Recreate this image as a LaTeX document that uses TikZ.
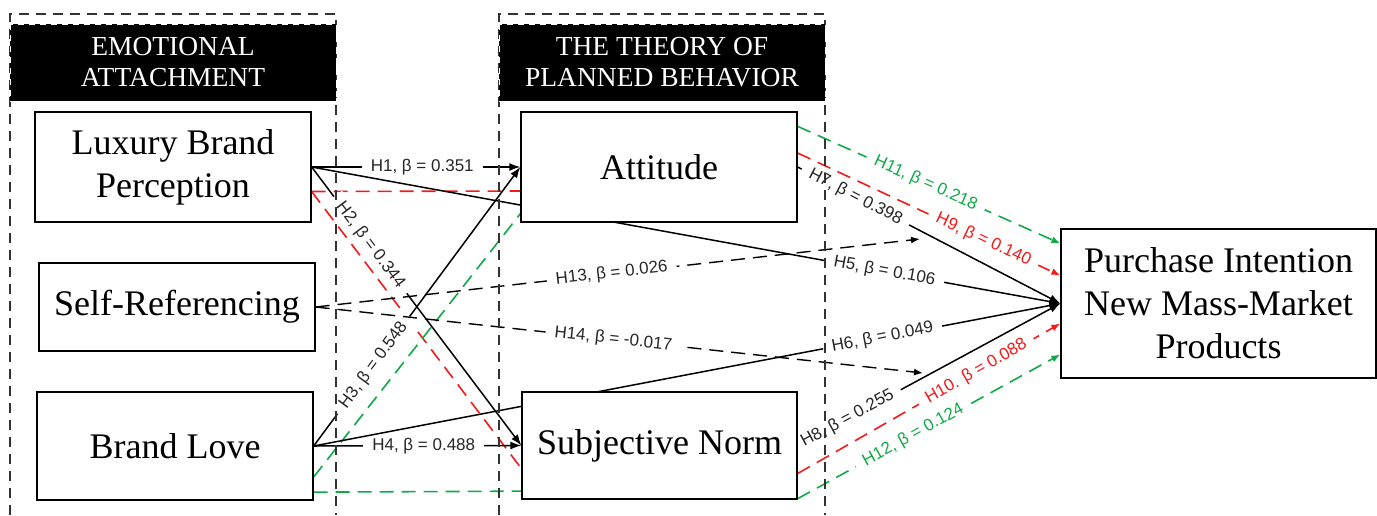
\documentclass[tikz,border=0pt]{standalone}
\usepackage{fontspec}
\setmainfont{Liberation Serif}
\newfontfamily\labfont{Liberation Sans}
\usetikzlibrary{arrows.meta,calc,backgrounds}
\definecolor{rd}{RGB}{245,25,25}
\definecolor{gn}{RGB}{15,170,70}
\begin{document}
\begin{tikzpicture}[x=1pt,y=-1pt,
  box/.style={draw,line width=1.3pt,fill=white,align=center,inner sep=0pt,font=\fontsize{36}{43}\selectfont},
  hdrtext/.style={text=white,align=center,font=\fontsize{27.5}{31}\selectfont},
  col/.style={line width=1.3pt,black!80,dash pattern=on 10pt off 7pt},
  conn/.style={line width=1.5pt,black},
  tipk/.style={-{Latex[length=11pt,width=8pt]}},
  tips/.style={-{Latex[length=9pt,width=7pt]}},
  dl/.style={line width=1.4pt,black,dash pattern=on 14pt off 8pt},
  rdl/.style={line width=1.6pt,rd,dash pattern=on 14pt off 8pt},
  gnl/.style={line width=1.6pt,gn,dash pattern=on 14pt off 8pt},
  lab/.style={font=\labfont\fontsize{17}{17}\selectfont,fill=white,inner xsep=9pt,inner ysep=2pt,text=black!85},
]
\useasboundingbox (0,0) rectangle (1377,515);
% columns
\draw[col] (10,515) -- (10,14) -- (336,14) -- (336,515);
\draw[col] (499,515) -- (499,14) -- (825,14) -- (825,515);
\fill[black] (10,24) rectangle (336,101);
\fill[black] (499,24) rectangle (825,101);
\draw[white,line width=1pt,dash pattern=on 6pt off 5pt] (10,24) rectangle (336,101);
\draw[white,line width=1pt,dash pattern=on 6pt off 5pt] (499,24) rectangle (825,101);
\node[hdrtext] (h1) at (173,62) {EMOTIONAL\\ATTACHMENT};
\node[hdrtext] (h2) at (662,62) {THE THEORY OF\\PLANNED BEHAVIOR};
% boxes
\node[box,minimum width=276pt,minimum height=110pt] (lbp) at (173,167) {Luxury Brand\\Perception};
\node[box,minimum width=276pt,minimum height=88pt] (sr) at (177,307) {Self-Referencing};
\node[box,minimum width=276pt,minimum height=108pt] (bl) at (175,446) {Brand Love};
\node[box,minimum width=276pt,minimum height=110pt] (att) at (659,167) {Attitude};
\node[box,minimum width=275pt,minimum height=107pt] (sn) at (659.5,445.5) {Subjective Norm};
\node[box,minimum width=315pt,minimum height=149pt] (pi) at (1218.5,303.5) {Purchase Intention\\New Mass-Market\\Products};
\coordinate (e13) at (920,239);
\coordinate (e14) at (923,373);
\begin{scope}[on background layer]
% red and green mediation paths
\draw[rdl] ($(lbp.east)+(0,24.5)$) -- ($(att.west)+(0,24)$);
\draw[rdl] ($(lbp.east)+(0,24.5)$) -- ($(sn.west)+(0,23)$);
\draw[gnl] ($(bl.east)+(0,31)$) -- ($(att.south west)+(0,-9)$);
\draw[gnl] ($(bl.south east)+(0,-8.5)$) -- ($(sn.south west)+(0,-8.5)$);
% black paths
\draw[conn,tipk] (lbp.east) -- node[lab,pos=0.53]{H1, β = 0.351} (att.west);
\draw[conn,tipk] (lbp.east) -- node[lab,sloped,pos=0.28]{H2, β = 0.344} (sn.west);
\draw[conn,tipk] (bl.east) -- node[lab,sloped,pos=0.29]{H3, β = 0.548} (att.west);
\draw[conn,tipk] (bl.east) -- node[lab,pos=0.53]{H4, β = 0.488} (sn.west);
\draw[conn,tipk] (lbp.east) -- node[lab,sloped,pos=0.765]{H5, β = 0.106} (pi.west);
\draw[conn,tipk] (bl.east) -- node[lab,sloped,pos=0.762]{H6, β = 0.049} (pi.west);
\draw[dl,tips] (sr.east) -- node[lab,sloped,pos=0.49]{H13, β = 0.026} (e13);
\draw[dl,tips] (sr.east) -- node[lab,sloped,pos=0.49]{H14, β = -0.017} (e14);
\draw[conn,tipk] (att.east) -- node[lab,sloped,pos=0.22]{H7, β = 0.398} (pi.west);
\draw[conn,tipk] (sn.east) -- node[lab,sloped,pos=0.19]{H8, β = 0.255} (pi.west);
\draw[rdl,tips] ($(att.east)+(0,-14)$) -- node[lab,sloped,text=rd,pos=0.707]{H9, β = 0.140} ($(pi.west)+(0,-28)$);
\draw[rdl,tips] ($(sn.east)+(0,28)$) -- node[lab,sloped,text=rd,pos=0.68]{H10. β = 0.088} ($(pi.west)+(0,20)$);
\draw[gnl,tips] ($(att.north east)+(0,15)$) -- node[lab,sloped,text=gn,pos=0.487]{H11, β = 0.218} ($(pi.west)+(0,-60)$);
\draw[gnl,tips] ($(sn.south east)+(0,-1)$) -- node[lab,sloped,text=gn,pos=0.44]{H12, β = 0.124} ($(pi.west)+(0,51)$);
\end{scope}
\end{tikzpicture}
\end{document}
